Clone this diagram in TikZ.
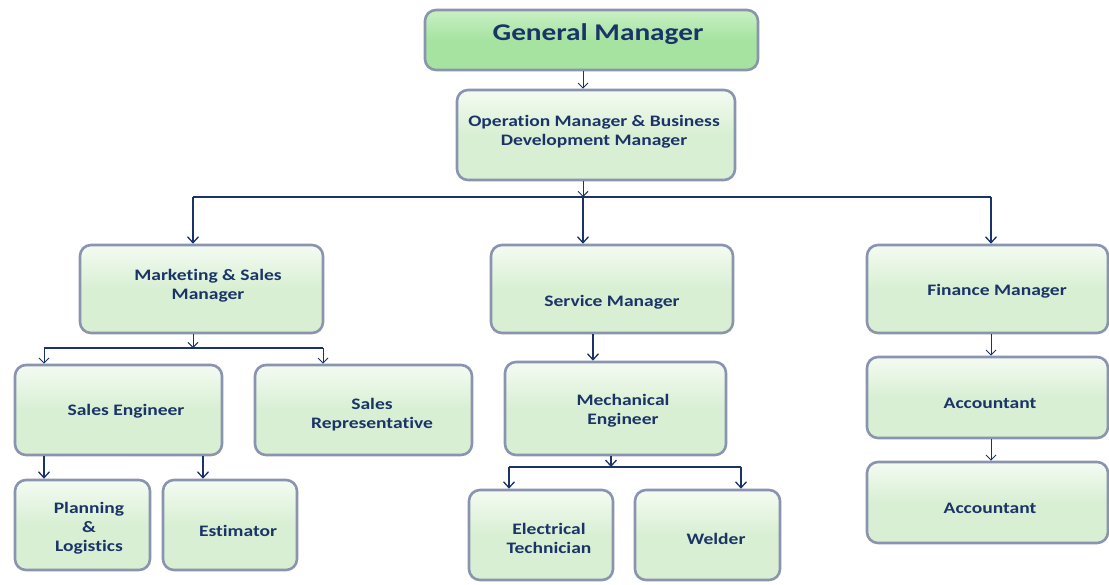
\documentclass[tikz,border=0pt]{standalone}
\usepackage{fontspec}
\setmainfont{Carlito}
\newfontfamily\boxfont[FakeStretch=1.22,RawFeature={-liga;-clig;-dlig}]{Carlito}
\usetikzlibrary{arrows.meta,shadows}
\definecolor{navy}{HTML}{1B3468}
\definecolor{edge}{HTML}{8A94AE}
\definecolor{lg}{HTML}{D8EFD3}
\definecolor{lgt}{HTML}{F4FBF2}
\definecolor{gm}{HTML}{A6E3A0}
\definecolor{gmt}{HTML}{C9F0C4}
\tikzset{
  box/.style={draw=edge, line width=2.6pt, rounded corners=11pt, top color=lgt, bottom color=lg, middle color=lg, inner sep=0pt},
  gmbox/.style={box, top color=gmt, bottom color=gm, middle color=gm},
  txt/.style={text=navy, font=\boxfont\bfseries\fontsize{16}{19}\selectfont, align=center, inner sep=0pt},
  conn/.style={draw=navy, line width=1.3pt, -{Straight Barb[length=6pt,width=11pt,line width=1.3pt]}},
  thin/.style={draw=navy, line width=1pt, -{Straight Barb[length=5pt,width=10pt,line width=1pt]}},
  seg/.style={draw=navy, line width=1.3pt}
}
\begin{document}
\begin{tikzpicture}[x=1pt,y=-1pt]
\useasboundingbox (0,0) rectangle (1109,584);
% boxes
\node[gmbox, minimum width=333pt, minimum height=60pt] (gm) at (591.5,40) {};
\node[box, minimum width=278pt, minimum height=90pt] (om) at (596,135) {};
\node[box, minimum width=243pt, minimum height=88pt] (ms) at (201.5,289) {};
\node[box, minimum width=242pt, minimum height=88pt] (sm) at (612,289) {};
\node[box, minimum width=241pt, minimum height=88pt] (fm) at (987.5,289) {};
\node[box, minimum width=207pt, minimum height=90pt] (se) at (118.5,410) {};
\node[box, minimum width=217pt, minimum height=90pt] (sr) at (363.5,410) {};
\node[box, minimum width=221pt, minimum height=93pt] (me) at (615.5,408.5) {};
\node[box, minimum width=241pt, minimum height=81pt] (ac1) at (987.5,397.5) {};
\node[box, minimum width=241pt, minimum height=81pt] (ac2) at (987.5,502.5) {};
\node[box, minimum width=135pt, minimum height=90pt] (pl) at (82.5,525) {};
\node[box, minimum width=134pt, minimum height=90pt] (es) at (230,525) {};
\node[box, minimum width=144pt, minimum height=90pt] (et) at (541,535) {};
\node[box, minimum width=145pt, minimum height=90pt] (wd) at (707.5,535) {};
% texts
\node[txt, font=\boxfont\bfseries\fontsize{24}{28}\selectfont] (gmt) at (598,34) {General Manager};
\node[txt] (omt) at (594,132) {Operation Manager \& Business\\Development Manager};
\node[txt] (mst) at (208,286) {Marketing \& Sales\\Manager};
\node[txt] (smt) at (612,302) {Service Manager};
\node[txt] (fmt) at (997,291) {Finance Manager};
\node[txt] (set) at (126,411) {Sales Engineer};
\node[txt] (srt) at (372,415) {Sales\\Representative};
\node[txt] (met) at (623,411) {Mechanical\\Engineer};
\node[txt] (ac1t) at (990,403) {Accountant};
\node[txt] (ac2t) at (990,508) {Accountant};
\node[txt] (plt) at (89,528) {Planning\\\&\\Logistics};
\node[txt] (est) at (238,531) {Estimator};
\node[txt] (ett) at (549,538) {Electrical\\Technician};
\node[txt] (wdt) at (716,539) {Welder};
% connectors
\draw[thin] (gm.south -| 583,0) -- (om.north -| 583,0);
\coordinate (b1) at (583,197);
\draw[thin] (om.south -| b1) -- (b1);
\draw[seg] (193,197) -- (991,197);
\draw[conn] (193,197) -- (ms.north -| 193,0);
\draw[conn] (b1) -- (sm.north -| b1);
\draw[conn] (991,197) -- (fm.north -| 991,0);
\coordinate (b2) at (193,348);
\draw[thin] (ms.south -| b2) -- (b2);
\draw[seg] (44,348) -- (323,348);
\draw[thin] (44,348) -- (se.north -| 44,0);
\draw[thin] (323,348) -- (sr.north -| 323,0);
\draw[conn] (se.south -| 44,0) -- (pl.north -| 44,0);
\draw[conn] (se.south -| 203,0) -- (es.north -| 203,0);
\draw[conn] (sm.south -| 593,0) -- (me.north -| 593,0);
\coordinate (b3) at (611,467);
\draw[conn] (me.south -| b3) -- (b3);
\draw[seg] (509,467) -- (741,467);
\draw[conn] (509,467) -- (et.north -| 509,0);
\draw[conn] (741,467) -- (wd.north -| 741,0);
\draw[thin] (fm.south -| 991,0) -- (ac1.north -| 991,0);
\draw[thin] (ac1.south -| 991,0) -- (ac2.north -| 991,0);
\end{tikzpicture}
\end{document}
